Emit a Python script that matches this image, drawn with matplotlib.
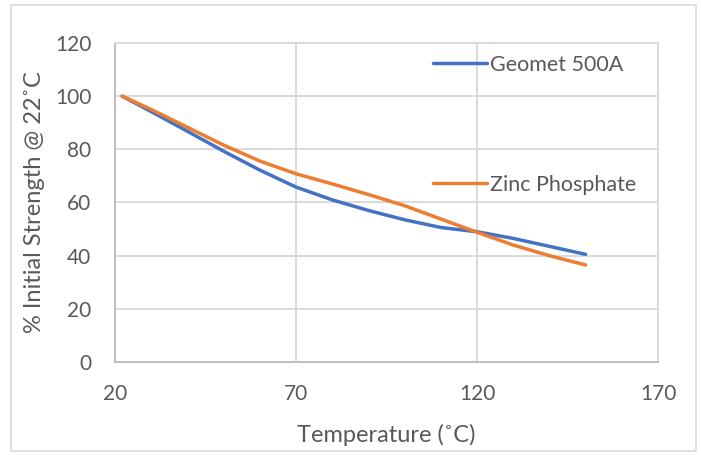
import matplotlib
matplotlib.use("Agg")
import matplotlib.pyplot as plt
from matplotlib.patches import Rectangle

# values
temps = [22, 30, 40, 50, 60, 70, 80, 90, 100, 110, 120, 130, 140, 150]
geomet = [100, 94.2, 86.8, 79.3, 72.2, 65.8, 61, 57, 53.5, 50.6, 49, 46.5, 43.5, 40.5]
zinc = [100, 95, 88.3, 81.6, 75.6, 70.8, 67, 63, 58.8, 53.8, 48.8, 44, 40, 36.5]
xticks = [20, 70, 120, 170]
yticks = [0, 20, 40, 60, 80, 100, 120]

plt.rcParams['font.family'] = ['Lato', 'DejaVu Sans']
txt = "#595959"
grid = "#d9d9d9"

fig = plt.figure(figsize=(7.01, 4.55), dpi=100)
fig.patches.append(Rectangle((0.015, 0.008), 0.978, 0.98, transform=fig.transFigure,
                             fill=False, edgecolor="#d9d9d9", linewidth=1.2))
ax = fig.add_axes([0.164, 0.2044, 0.7747, 0.7011])

l1, = ax.plot(temps, geomet, color="#4472C4", lw=2.5, solid_capstyle="round")
l2, = ax.plot(temps, zinc, color="#ED7D31", lw=2.5, solid_capstyle="round")

ax.set_xlim(20, 170)
ax.set_ylim(0, 120)
ax.set_xticks(xticks)
ax.set_yticks(yticks)
ax.grid(True, color=grid, lw=1.4)
ax.set_axisbelow(True)
for s in ["top", "right"]:
    ax.spines[s].set_color(grid)
    ax.spines[s].set_linewidth(1.4)
for s in ["left", "bottom"]:
    ax.spines[s].set_color("#bfbfbf")
    ax.spines[s].set_linewidth(1.4)
ax.tick_params(length=0, labelsize=15, colors=txt)
ax.tick_params(axis="x", pad=16)
ax.tick_params(axis="y", pad=17)

ax.set_xlabel("Temperature (˚C)", fontsize=17, color=txt, labelpad=14)
ax.set_ylabel("% Initial Strength @ 22˚C", fontsize=17, color=txt, labelpad=7)

leg1 = ax.legend([l1], ["Geomet 500A"], loc="center left", bbox_to_anchor=(0.57, 0.931),
                 frameon=False, fontsize=15.5, handlelength=2.5, handletextpad=0.15,
                 labelcolor=txt, borderaxespad=0)
ax.add_artist(leg1)
ax.legend([l2], ["Zinc Phosphate"], loc="center left", bbox_to_anchor=(0.57, 0.555),
          frameon=False, fontsize=15.5, handlelength=2.5, handletextpad=0.15,
          labelcolor=txt, borderaxespad=0)

fig.savefig("out.png", dpi=100)
